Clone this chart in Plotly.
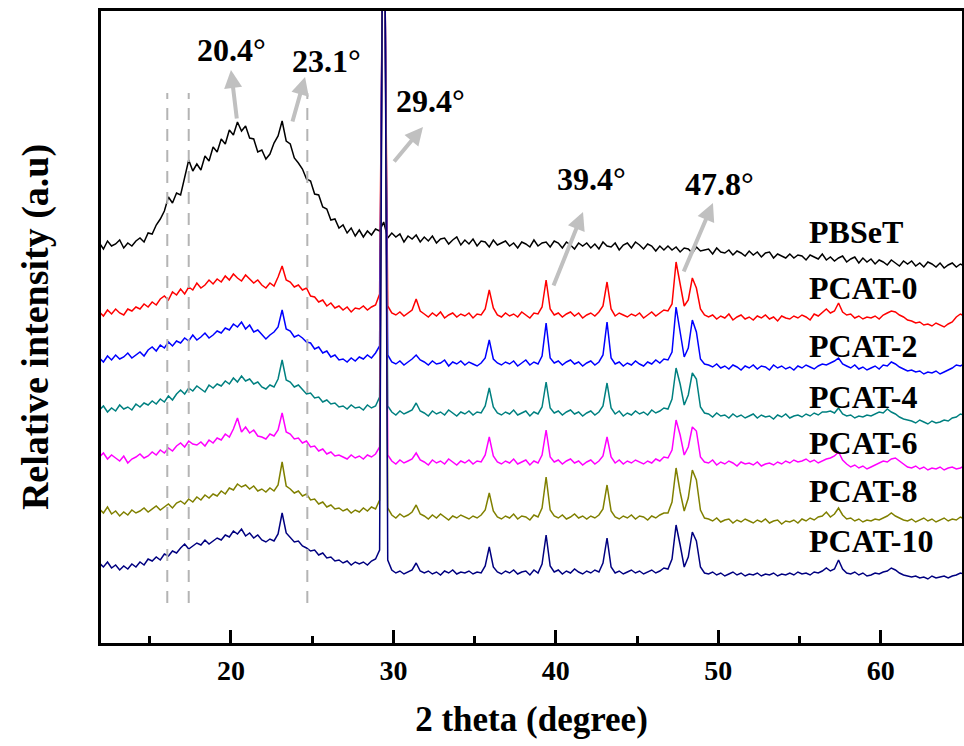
import numpy as np
import plotly.graph_objects as go

# 2-theta sampling grid (degrees)
two_theta = np.round(11.9 + 0.25 * np.arange(214), 2)

series_names = ["PBSeT", "PCAT-0", "PCAT-2", "PCAT-4", "PCAT-6", "PCAT-8", "PCAT-10"]
series_colors = ["#000000", "#FF0000", "#0000FF", "#008080", "#FF00FF", "#808000", "#000080"]
# vertical stacking offsets (a.u.)
series_offsets = [388, 325, 275, 226, 178, 121, 68]

pbset = [
    12, 6, 14, 9, 11, 15, 7, 12, 9, 14,
    17, 13, 22, 21, 30, 36, 44, 58, 52, 62,
    60, 78, 95, 84, 91, 85, 99, 94, 108, 103,
    116, 111, 125, 120, 133, 124, 129, 117, 116, 103,
    105, 96, 101, 112, 119, 134, 114, 111, 97, 92,
    86, 76, 74, 61, 60, 48, 46, 35, 36, 27,
    30, 22, 27, 19, 25, 18, 24, 20, 26, 24,
    33, 17, 22, 18, 21, 13, 19, 16, 20, 13,
    18, 14, 19, 12, 16, 17, 11, 15, 18, 10,
    15, 11, 16, 9, 14, 13, 8, 15, 10, 12,
    14, 9, 12, 7, 13, 11, 8, 15, 9, 12,
    13, 8, 14, 12, 7, 13, 10, 6, 12, 9,
    12, 7, 11, 6, 13, 9, 8, 12, 5, 10,
    12, 7, 13, 10, 6, 11, 9, 4, 9, 5,
    9, 5, 8, 3, 7, 6, 2, 8, 4, 5,
    6, 1, 7, 3, 2, 5, 0, 4, 2, -1,
    4, 0, 3, -2, 2, 3, -3, 1, -1, -3,
    1, -3, 0, -1, -5, 0, -2, -4, 1, -5,
    -2, -6, -3, -1, -7, -4, -2, -8, -3, -7,
    -4, -9, -5, -7, -10, -5, -8, -11, -6, -9,
    -6, -11, -8, -12, -7, -9, -12, -8, -13, -10,
    -8, -12, -9, -11,
]

pcat0 = [
    6, 2, 8, 4, 9, 5, 3, 9, 7, 11,
    9, 14, 11, 16, 13, 19, 22, 18, 26, 23,
    29, 24, 31, 28, 35, 30, 33, 38, 34, 39,
    36, 42, 38, 44, 40, 37, 43, 39, 35, 38,
    33, 30, 35, 32, 41, 52, 38, 36, 31, 33,
    28, 30, 22, 21, 16, 18, 12, 15, 10, 12,
    8, 11, 6, 10, 9, 12, 8, 11, 13, 24,
    490, 12, 5, 3, 6, 2, 5, 8, 19, 7,
    4, 1, 5, 2, 6, 0, 3, 5, 1, 4,
    2, 5, 0, 4, 3, 9, 28, 10, 3, 1,
    5, 2, 4, 1, 6, 3, 0, 5, 4, 11,
    38, 9, 3, 5, 1, 4, 6, 2, 5, 0,
    3, 5, 2, 6, 12, 36, 9, 2, 5, 3,
    1, 4, 2, 5, 0, 3, 6, 2, 5, 8,
    7, 14, 56, 32, 12, 18, 40, 30, 9, 3,
    1, 3, -1, 2, 0, 4, -2, 1, 3, -1,
    1, -2, 2, 0, 3, -1, 1, -3, 2, 0,
    -1, 2, 0, 3, 1, -2, 4, 2, 6, 9,
    5, 7, 15, 6, 3, 4, 0, 2, -1, 1,
    0, 2, -1, 3, 5, 7, 6, 3, 1, -2,
    -3, -5, -4, -7, -6, -8, -5, -7, -9, -6,
    -4, 1, 4, 2,
]

pcat2 = [
    10, 6, 12, 8, 13, 9, 11, 15, 10, 13,
    16, 12, 18, 21, 17, 23, 20, 26, 22, 27,
    25, 30, 27, 33, 28, 31, 35, 30, 33, 37,
    35, 40, 38, 44, 41, 46, 39, 43, 36, 38,
    34, 29, 33, 36, 41, 58, 39, 37, 31, 33,
    30, 26, 25, 19, 21, 15, 17, 11, 13, 8,
    9, 6, 10, 7, 11, 9, 13, 10, 15, 22,
    570, 13, 6, 4, 7, 3, 6, 9, 13, 8,
    6, 3, 7, 4, 5, 8, 2, 6, 4, 7,
    3, 6, 4, 2, 5, 10, 28, 9, 5, 3,
    6, 4, 7, 2, 5, 8, 3, 6, 4, 12,
    45, 10, 5, 7, 3, 6, 8, 4, 6, 2,
    5, 7, 3, 6, 13, 46, 10, 4, 6, 2,
    5, 3, 7, 4, 2, 6, 4, 8, 5, 9,
    8, 16, 61, 35, 11, 20, 48, 36, 9, 4,
    3, 1, 4, 0, 2, -1, 3, 1, -2, 2,
    0, 3, -1, 2, 1, -2, 3, 0, 2, -1,
    1, -2, 2, 0, 3, 1, -1, 2, 4, 3,
    5, 7, 10, 4, 2, 0, 3, -1, 1, -2,
    0, 2, -1, 3, 2, 6, 4, 1, -1, -3,
    -2, -4, -3, -6, -4, -5, -3, -6, -4, -2,
    0, 3, 2, 4,
]

pcat4 = [
    7, 11, 5, 9, 6, 12, 8, 10, 7, 13,
    10, 14, 12, 16, 13, 18, 15, 21, 17, 23,
    27, 23, 29, 26, 31, 28, 25, 32, 29, 33,
    31, 36, 33, 39, 35, 41, 36, 38, 33, 35,
    30, 28, 32, 30, 38, 57, 37, 35, 30, 32,
    27, 23, 24, 19, 20, 15, 17, 13, 14, 10,
    11, 8, 12, 9, 10, 7, 12, 9, 11, 20,
    650, 11, 5, 2, 6, 3, 5, 7, 14, 6,
    4, 1, 6, 3, 5, 2, 7, 4, 1, 5,
    3, 6, 2, 5, 4, 11, 29, 10, 4, 2,
    5, 3, 7, 2, 4, 6, 1, 5, 3, 10,
    35, 9, 4, 6, 2, 5, 7, 3, 5, 1,
    4, 6, 2, 5, 11, 34, 9, 3, 6, 1,
    4, 2, 6, 3, 5, 2, 7, 4, 6, 9,
    8, 18, 49, 33, 12, 22, 44, 38, 10, 4,
    3, 0, 4, 1, 2, -1, 3, 0, 2, -1,
    1, 3, -1, 2, 0, 1, -2, 2, 0, 3,
    -1, 1, 2, 0, 3, 1, 4, 2, 5, 5,
    6, 4, 9, 3, 1, 2, -1, 1, 0, 2,
    1, 3, 5, 4, 8, 5, 3, 0, -2, -3,
    -4, -6, -3, -5, -7, -4, -6, -5, -3, -4,
    -1, 0, 3, 2,
]

pcat6 = [
    8, 12, 6, 10, 7, 4, 9, 2, 6, 8,
    11, 7, 9, 13, 10, 15, 12, 17, 14, 19,
    22, 18, 24, 21, 20, 23, 19, 25, 22, 27,
    25, 31, 28, 36, 47, 33, 38, 32, 35, 29,
    28, 26, 31, 29, 35, 52, 33, 31, 26, 27,
    22, 24, 18, 19, 14, 16, 11, 13, 9, 10,
    8, 6, 10, 7, 9, 6, 10, 8, 11, 18,
    730, 10, 4, 1, 5, 2, 4, 6, 12, 5,
    3, 0, 5, 2, 4, 1, 6, 3, 0, 4,
    2, 5, 1, 4, 3, 10, 28, 9, 3, 1,
    4, 2, 6, 1, 3, 5, 0, 4, 2, 10,
    35, 8, 3, 5, 1, 4, 6, 2, 4, 0,
    3, 5, 1, 4, 9, 28, 8, 2, 5, 1,
    4, 2, 5, 3, 1, 4, 2, 6, 4, 8,
    7, 15, 45, 30, 10, 18, 38, 34, 8, 3,
    2, 5, 0, 3, 1, 4, 2, -1, 3, 1,
    2, 0, 3, -1, 1, 2, 0, 3, 1, 4,
    2, 5, 3, 4, 6, 3, 5, 2, 4, 6,
    7, 9, 13, 5, 1, -2, 0, -3, -1, -4,
    -2, 0, 2, 4, 3, 6, 7, 4, 1, -2,
    -3, -1, -4, -2, -5, -3, -4, -2, -5, -3,
    -2, -4, -3, -1,
]

pcat8 = [
    13, 9, 15, 8, 11, 6, 10, 7, 12, 9,
    11, 14, 10, 13, 16, 12, 15, 18, 14, 19,
    21, 18, 23, 20, 25, 22, 27, 24, 28, 26,
    31, 28, 34, 32, 38, 35, 37, 33, 36, 31,
    33, 30, 34, 31, 37, 60, 36, 33, 29, 31,
    26, 28, 22, 23, 18, 20, 15, 17, 13, 14,
    11, 13, 9, 12, 10, 14, 11, 15, 13, 22,
    820, 14, 7, 4, 8, 5, 7, 10, 17, 8,
    6, 3, 7, 4, 8, 5, 2, 6, 4, 7,
    5, 3, 6, 4, 7, 12, 29, 11, 5, 3,
    6, 4, 8, 3, 6, 5, 2, 7, 5, 14,
    45, 12, 6, 4, 7, 3, 5, 8, 4, 6,
    3, 6, 4, 7, 13, 37, 11, 5, 3, 6,
    4, 7, 3, 6, 5, 2, 6, 4, 7, 9,
    9, 20, 54, 30, 11, 24, 52, 42, 12, 4,
    3, 1, 4, 0, 2, 3, -1, 2, 0, 3,
    1, -1, 2, 0, 3, -1, 1, 2, -2, 1,
    0, 2, -1, 3, 1, 4, 2, 5, 6, 10,
    5, 8, 14, 7, 3, 4, 1, 3, 0, 2,
    1, 3, 2, 4, 6, 9, 6, 4, 2, 1,
    3, 0, 2, 4, 1, 3, 0, 2, 4, 1,
    3, 2, 5, 3,
]

pcat10 = [
    12, 8, 13, 7, 10, 5, 9, 6, 11, 8,
    13, 10, 16, 14, 18, 15, 21, 19, 24, 22,
    27, 31, 26, 29, 32, 30, 35, 31, 34, 37,
    35, 40, 38, 44, 41, 46, 39, 42, 37, 40,
    35, 33, 36, 34, 41, 62, 42, 38, 33, 34,
    29, 27, 24, 25, 20, 22, 17, 18, 14, 15,
    12, 14, 10, 13, 11, 13, 10, 14, 16, 25,
    900, 15, 5, 2, 4, 1, 3, 5, 12, 4,
    2, 4, 1, 3, 0, 4, 2, 5, 1, 3,
    2, 4, 1, 3, 2, 9, 28, 8, 3, 1,
    4, 2, 5, 1, 3, 4, 0, 5, 2, 11,
    40, 9, 3, 5, 1, 4, 2, 6, 3, 1,
    4, 2, 5, 3, 12, 37, 8, 2, 4, 1,
    3, 5, 2, 4, 1, 3, 5, 2, 4, 7,
    6, 16, 50, 30, 8, 18, 43, 34, 8, 2,
    1, 3, 0, 2, -1, 1, 3, 0, 2, -1,
    1, 0, 2, -1, 1, 0, 2, -1, 1, 0,
    2, 0, 3, 1, 2, 0, 3, 2, 4, 7,
    4, 6, 15, 6, 2, 1, 3, 0, 2, -1,
    0, 2, 1, 3, 4, 7, 5, 2, 0, -1,
    -2, -1, -3, -2, -4, -1, -3, -2, -1, -3,
    -1, 0, 2, 1,
]

series_values = [pbset, pcat0, pcat2, pcat4, pcat6, pcat8, pcat10]

# label positions (2theta, a.u.)
label_x = 55.46
label_y = [411, 355, 297, 246, 200, 152, 102]

# reference dashed lines (2theta)
guide_lines = [16.08, 17.40, 24.70]
guide_y = [40, 550]

# peak callouts: text, text position, arrow head, arrow tail
peak_texts = ["20.4°", "23.1°", "29.4°", "39.4°", "47.8°"]
peak_text_pos = [(20.06, 593), (25.91, 582), (32.31, 542), (42.22, 464), (50.10, 459)]
arrow_heads = [(20.00, 573), (24.56, 566), (31.82, 516), (41.67, 431), (49.67, 440)]
arrow_tails = [(20.37, 523), (23.76, 520), (29.97, 480), (39.82, 356), (47.83, 370)]

FONT = "Liberation Serif"

fig = go.Figure()

for gx in guide_lines:
    fig.add_shape(type="line", xref="x", yref="y", x0=gx, x1=gx,
                  y0=guide_y[0], y1=guide_y[1],
                  line=dict(color="#b4b4b4", width=2, dash="12px,9px"))

for name, col, off, vals in zip(series_names, series_colors, series_offsets, series_values):
    fig.add_trace(go.Scatter(
        x=two_theta, y=np.array(vals) + off, mode="lines", name=name,
        line=dict(color=col, width=1.5), showlegend=False))

annotations = []
for name, col, ly in zip(series_names, series_colors, label_y):
    annotations.append(dict(x=label_x, y=ly, xref="x", yref="y", text=name,
                            showarrow=False, xanchor="left", yanchor="middle",
                            font=dict(family=FONT, size=32, color="black", weight="bold")))

for (hx, hy), (tx, ty) in zip(arrow_heads, arrow_tails):
    annotations.append(dict(x=hx, y=hy, ax=tx, ay=ty, xref="x", yref="y",
                            axref="x", ayref="y", text="", showarrow=True,
                            arrowhead=2, arrowsize=0.9, arrowwidth=4,
                            arrowcolor="#c0c0c0", standoff=0, startstandoff=0))

for txt, (px, py) in zip(peak_texts, peak_text_pos):
    annotations.append(dict(x=px, y=py, xref="x", yref="y", text=txt,
                            showarrow=False, xanchor="center", yanchor="middle",
                            font=dict(family=FONT, size=32, color="black", weight="bold")))

fig.update_layout(
    width=964, height=746,
    margin=dict(l=101, r=2, t=11, b=103),
    paper_bgcolor="white", plot_bgcolor="white",
    annotations=annotations,
    showlegend=False,
)

fig.update_xaxes(
    range=[12, 65], showline=True, linecolor="black", linewidth=3, mirror=True,
    ticks="inside", ticklen=13, tickwidth=3, tickcolor="black",
    tick0=0, dtick=10, showgrid=False, zeroline=False, automargin=False,
    minor=dict(ticks="inside", ticklen=7, tickwidth=3, tickcolor="black", dtick=5, tick0=0, showgrid=False),
    tickfont=dict(family=FONT, size=28, color="black", weight="bold"),
    ticklabelstandoff=0,
    title=dict(text="2 theta (degree)", standoff=22,
               font=dict(family=FONT, size=35, color="black", weight="bold")),
)
fig.update_yaxes(
    range=[0, 632], showline=True, linecolor="black", linewidth=3, mirror=True,
    ticks="", showticklabels=False, showgrid=False, zeroline=False, automargin=False,
    title=dict(text="Relative intensity (a.u)", standoff=38,
               font=dict(family=FONT, size=38, color="black", weight="bold")),
)

fig.write_html("out.html", config={"displayModeBar": False},
               post_script="document.body.style.margin='0';document.body.style.padding='0';")
